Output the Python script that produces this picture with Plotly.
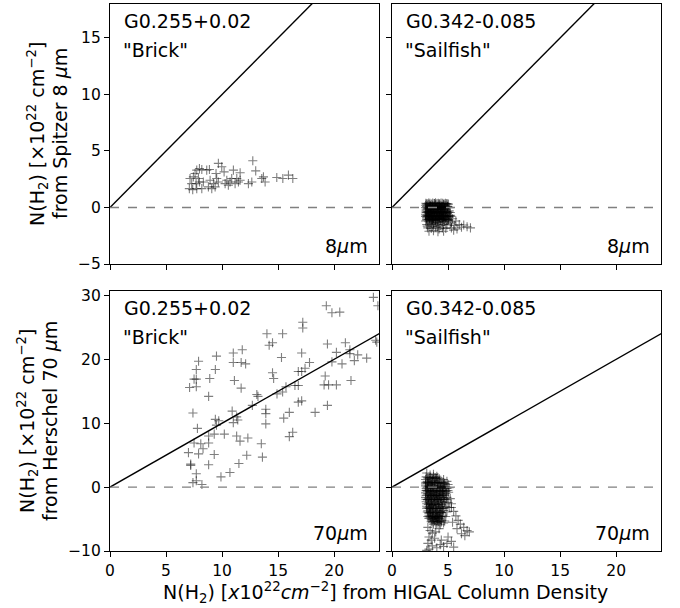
import plotly.graph_objects as go

# ---------------- data ----------------
# G0.255+0.02 "Brick", Spitzer 8 um vs HIGAL
brick8_x = [7.14, 7.29, 7.08, 7.38, 7.74, 7.59, 7.74, 7.98, 8.19, 8.63, 8.87, 7.44, 7.89, 8.33, 8.19,
            8.78, 9.08, 9.38, 8.93, 9.52, 9.67, 9.46, 9.67, 9.97, 10.18, 10.42, 10.71, 10.56, 10.86,
            11.01, 11.31, 11.16, 11.61, 11.61, 12.35, 12.65, 12.74, 13.0, 13.54, 13.84, 13.69, 14.88,
            15.42, 15.92, 16.31, 9.23, 10.27, 11.46, 7.98, 7.68]
brick8_y = [2.56, 2.11, 1.67, 1.58, 1.67, 3.01, 3.30, 3.45, 3.36, 3.30, 3.36, 2.71, 2.56, 2.26, 1.67,
            1.82, 1.67, 1.82, 2.41, 2.56, 2.26, 3.01, 3.90, 3.60, 3.15, 2.41, 2.26, 1.96, 2.56,
            3.30, 2.56, 2.11, 3.07, 2.41, 2.11, 2.26, 4.13, 3.24, 2.56, 2.26, 2.71, 2.65,
            2.56, 2.86, 2.56, 2.11, 2.11, 2.26, 2.26, 2.11]

# G0.342-0.085 "Sailfish", Spitzer 8 um vs HIGAL (outer points)
sail8_x_outer = [3.1, 3.4, 3.8, 4.2, 4.6, 4.9,
           3.0, 3.3, 3.6, 3.9, 4.3, 4.7, 5.0,
           3.05, 3.25, 3.5, 3.8, 4.1, 4.4, 4.8, 5.1,
           3.0, 3.2, 3.45, 3.7, 4.0, 4.3, 4.6, 4.95, 5.2,
           3.1, 3.35, 3.6, 3.9, 4.2, 4.5, 4.8, 5.1, 5.4,
           3.0, 3.3, 3.55, 3.85, 4.1, 4.4, 4.7, 5.0, 5.3, 5.7,
           3.1, 3.4, 3.7, 4.0, 4.3, 4.6, 4.9, 5.2, 5.6, 6.0, 6.4,
           3.2, 3.5, 3.9, 4.2, 4.5, 4.8, 5.3, 5.8, 6.2, 6.7, 7.0,
           3.3, 3.7, 4.1, 4.6, 5.5,
           3.2, 3.5, 3.3, 3.6, 3.4, 3.9, 4.4, 4.0, 4.5, 3.75, 4.25, 4.65, 3.15, 3.6, 4.1,
           3.0, 3.15, 3.3, 3.45, 3.6, 3.75, 3.9, 4.05, 4.2, 4.35, 4.5, 4.65, 4.8, 4.95,
           3.05, 3.2, 3.35, 3.5, 3.65, 3.8, 3.95, 4.1, 4.25, 4.4, 4.55, 4.7, 4.85,
           3.1, 3.25, 3.4, 3.55, 3.7, 3.85, 4.0, 4.15, 4.3, 4.45, 4.6,
           3.0, 3.2, 3.4, 3.6, 3.8, 4.0, 4.2, 4.4, 4.6, 4.8, 5.0,
           3.1, 3.3, 3.5, 3.7, 3.9, 4.1, 4.3, 4.5]
sail8_y_outer = [0.3, 0.2, 0.35, 0.3, 0.25, 0.3,
           0.0, -0.05, 0.05, -0.1, 0.0, -0.05, 0.05,
           -0.3, -0.35, -0.25, -0.3, -0.4, -0.3, -0.35, -0.3,
           -0.6, -0.65, -0.55, -0.6, -0.7, -0.6, -0.65, -0.55, -0.7,
           -0.9, -0.95, -0.85, -0.9, -1.0, -0.9, -0.95, -0.85, -1.0,
           -1.2, -1.25, -1.15, -1.2, -1.3, -1.2, -1.25, -1.15, -1.3, -1.2,
           -1.5, -1.55, -1.45, -1.5, -1.6, -1.5, -1.55, -1.45, -1.6, -1.5, -1.55,
           -1.8, -1.85, -1.75, -1.9, -1.8, -1.85, -1.8, -1.9, -1.75, -1.7, -1.8,
           -2.1, -2.05, -2.15, -2.1, -2.0,
           -0.1, -0.45, -0.75, -1.05, 0.1, 0.15, 0.1, -0.2, -0.5, -1.35, -0.85, -1.05, -1.65, -1.65, -1.7,
           0.2, 0.15, 0.25, 0.1, 0.2, 0.15, 0.25, 0.1, 0.2, 0.15, 0.1, 0.2, 0.15, 0.1,
           -0.15, -0.2, -0.1, -0.2, -0.15, -0.2, -0.1, -0.15, -0.2, -0.15, -0.2, -0.1, -0.2,
           -0.45, -0.5, -0.4, -0.5, -0.45, -0.5, -0.4, -0.5, -0.45, -0.4, -0.5,
           -0.8, -0.75, -0.85, -0.8, -0.75, -0.8, -0.85, -0.75, -0.8, -0.85, -0.8,
           -1.1, -1.05, -1.1, -1.0, -1.1, -1.05, -1.1, -1.0]
# Sailfish 8 um: dense core
sail8_x_core = [3.02, 3.14, 3.27, 3.38, 3.51, 3.63, 3.76, 3.88, 4.01, 4.13, 4.26, 4.38, 4.52, 4.64, 4.77, 4.9, 5.03,
                3.08, 3.2, 3.33, 3.45, 3.58, 3.7, 3.83, 3.95, 4.08, 4.2, 4.33, 4.45, 4.58, 4.7, 4.83, 4.96, 5.1,
                3.03, 3.16, 3.29, 3.41, 3.54, 3.66, 3.79, 3.92, 4.04, 4.17, 4.29, 4.42, 4.55, 4.67, 4.8, 4.93, 5.06, 5.2,
                3.05, 3.18, 3.31, 3.44, 3.56, 3.69, 3.81, 3.94, 4.07, 4.19, 4.32, 4.45, 4.57, 4.7, 4.84, 4.98, 5.12, 5.26,
                3.1, 3.23, 3.36, 3.49, 3.62, 3.74, 3.87, 4.0, 4.12, 4.25, 4.38, 4.51, 4.63, 4.76, 4.9, 5.05]
sail8_y_core = [0.38, 0.33, 0.4, 0.36, 0.31, 0.39, 0.35, 0.42, 0.34, 0.37, 0.32, 0.4, 0.36, 0.33, 0.38, 0.35, 0.3,
                0.08, -0.02, 0.05, 0.1, -0.06, 0.03, 0.07, -0.04, 0.02, 0.09, -0.03, 0.04, 0.06, -0.05, 0.01, 0.07, -0.02,
                -0.42, -0.38, -0.47, -0.4, -0.36, -0.45, -0.41, -0.48, -0.37, -0.44, -0.4, -0.46, -0.39, -0.43, -0.47, -0.38, -0.42, -0.45,
                -0.72, -0.78, -0.7, -0.76, -0.8, -0.73, -0.77, -0.71, -0.79, -0.74, -0.7, -0.78, -0.75, -0.72, -0.8, -0.76, -0.73, -0.79,
                -1.02, -1.08, -1.0, -1.06, -1.1, -1.03, -1.07, -1.01, -1.09, -1.04, -1.0, -1.08, -1.05, -1.02, -1.1, -1.06]

# G0.255+0.02 "Brick", Herschel 70 um vs HIGAL
brick70_x = [23.5, 23.9, 19.3, 19.8, 20.5, 17.2, 17.2, 14.0, 15.4, 14.2, 14.5, 19.4, 21.0, 21.4, 23.7,
             23.8, 20.2, 21.4, 22.1, 22.9, 21.8, 19.8, 20.7, 17.1, 15.3, 17.8, 17.4, 17.1, 16.8, 14.5,
             14.6, 19.2, 19.1, 19.5, 20.2, 21.5, 16.5, 16.8, 15.7, 15.4, 14.9, 13.1, 13.2, 12.7, 13.9,
             13.9, 17.1, 16.8, 18.3, 19.4, 16.0, 15.5, 13.9, 16.3, 16.0, 7.9, 7.7, 7.7, 9.5, 9.4,
             11.0, 11.8, 11.0, 11.7, 12.1, 8.9, 7.5, 7.1, 7.7, 11.1, 11.7, 8.8, 7.4, 10.9, 11.3,
             9.4, 9.7, 9.5, 11.0, 11.4, 7.8, 10.2, 8.8, 9.3, 11.3, 12.3, 11.6, 13.5, 7.5, 8.1,
             8.3, 8.8, 7.0, 7.9, 9.3, 12.2, 13.6, 7.2, 7.2, 8.8, 11.5, 7.7, 9.9, 10.7, 7.4,
             7.7, 8.2]
brick70_y = [29.7, 28.4, 28.4, 27.3, 27.4, 25.8, 24.9, 24.0, 24.0, 22.2, 22.6, 22.4, 22.6, 21.5, 23.0,
             22.7, 21.1, 20.9, 20.7, 20.2, 19.8, 19.6, 19.3, 21.0, 20.3, 19.5, 18.6, 18.1, 18.1, 17.9,
             17.0, 17.4, 16.0, 16.0, 16.0, 16.7, 15.9, 15.9, 15.7, 14.9, 14.6, 14.5, 14.2, 12.8, 12.2,
             11.5, 13.5, 13.3, 11.7, 12.8, 11.7, 10.8, 9.9, 8.6, 7.9, 19.7, 18.4, 16.9, 20.5, 18.4,
             21.0, 21.5, 19.5, 19.5, 19.3, 17.0, 16.9, 15.6, 15.7, 16.7, 15.5, 14.2, 11.6, 11.9, 11.0,
             10.6, 10.4, 9.7, 10.1, 10.5, 9.2, 8.3, 8.0, 8.3, 8.0, 7.7, 7.2, 6.8, 6.9, 6.8,
             6.0, 6.9, 5.4, 5.2, 5.1, 5.0, 4.7, 3.6, 3.4, 3.5, 3.7, 2.1, 1.6, 2.3, 0.7,
             1.0, 0.4]

# G0.342-0.085 "Sailfish", Herschel 70 um vs HIGAL (outer points)
sail70_x_outer = [3.1, 3.4, 3.7, 4.0,
            3.0, 3.3, 3.6, 3.9, 4.2, 4.6, 4.9,
            3.0, 3.2, 3.5, 3.8, 4.1, 4.4, 4.7, 5.0,
            3.05, 3.25, 3.5, 3.75, 4.0, 4.3, 4.6, 4.9, 5.1,
            3.0, 3.2, 3.45, 3.7, 3.95, 4.2, 4.5, 4.8, 5.05,
            3.0, 3.25, 3.5, 3.75, 4.0, 4.3, 4.6, 4.9, 5.2,
            3.05, 3.3, 3.55, 3.8, 4.1, 4.4, 4.7, 5.0, 5.3,
            3.1, 3.35, 3.6, 3.9, 4.2, 4.5, 4.8, 5.1,
            3.2, 3.45, 3.7, 4.0, 4.3, 4.6, 4.9,
            3.3, 3.6, 3.9, 4.2, 4.5, 4.8,
            3.5, 3.8, 4.1, 4.4, 4.7,
            3.7, 4.0, 4.3, 4.6,
            3.1, 3.3, 3.4, 3.6, 3.2, 3.5, 3.9, 4.1, 3.15, 3.4, 4.4, 4.2, 3.6, 4.5, 3.3, 4.0,
            5.3, 5.5, 5.7, 5.9, 6.1, 6.4, 6.7, 6.2, 5.8, 5.4, 6.9, 6.5,
            3.2, 3.4, 3.6, 3.3, 3.5, 3.8, 3.2, 3.6, 3.3, 4.0, 4.3, 4.6, 4.9, 5.3, 5.0, 4.4,
            3.9, 4.2, 5.5, 3.1,
            3.0, 3.15, 3.3, 3.45, 3.6, 3.75, 3.9, 4.05, 4.2, 4.35, 4.5, 4.65, 4.8,
            3.05, 3.2, 3.35, 3.5, 3.65, 3.8, 3.95, 4.1, 4.25, 4.4, 4.55, 4.7,
            3.1, 3.25, 3.4, 3.55, 3.7, 3.85, 4.0, 4.15, 4.3, 4.45,
            3.15, 3.3, 3.45, 3.6, 3.75, 3.9, 4.05, 4.2, 4.35,
            3.3, 3.45, 3.6, 3.75, 3.9, 4.05, 4.2]
sail70_y_outer = [2.2, 1.9, 2.0, 1.7,
            1.2, 1.3, 1.1, 1.4, 1.0, 1.2, 0.9,
            0.5, 0.6, 0.4, 0.5, 0.6, 0.3, 0.5, 0.4,
            -0.2, -0.3, -0.1, -0.2, -0.3, -0.15, -0.25, -0.2, -0.1,
            -0.9, -1.0, -0.8, -0.9, -1.0, -0.85, -0.95, -1.0, -0.8,
            -1.6, -1.7, -1.5, -1.6, -1.7, -1.55, -1.65, -1.6, -1.8,
            -2.3, -2.4, -2.2, -2.3, -2.4, -2.25, -2.35, -2.4, -2.6,
            -3.0, -3.1, -2.9, -3.0, -3.1, -2.95, -3.05, -3.2,
            -3.7, -3.8, -3.6, -3.7, -3.8, -3.65, -3.9,
            -4.4, -4.5, -4.3, -4.5, -4.4, -4.6,
            -5.1, -5.2, -5.0, -5.2, -5.3,
            -5.8, -5.7, -5.9, -5.6,
            -0.5, 0.1, -1.3, -0.6, -2.0, -2.7, -1.3, -2.0, 0.9, -3.4, -4.0, -1.3, 0.8, -0.6, -4.0, -4.8,
            -3.2, -3.8, -4.5, -5.2, -5.8, -6.3, -6.8, -7.3, -6.5, -5.5, -7.0, -7.6,
            -6.3, -6.8, -7.2, -7.8, -8.3, -8.0, -8.8, -9.2, -9.7, -9.5, -9.0, -9.3, -8.8, -8.5, -7.8, -8.3,
            -7.0, -6.5, -9.4, -9.9,
            0.2, 0.0, 0.3, -0.1, 0.1, 0.2, -0.1, 0.0, 0.2, -0.1, 0.1, 0.0, 0.1,
            -1.3, -1.2, -1.4, -1.3, -1.2, -1.4, -1.3, -1.2, -1.4, -1.3, -1.2, -1.3,
            -2.6, -2.7, -2.6, -2.8, -2.7, -2.6, -2.8, -2.7, -2.6, -2.7,
            -3.9, -4.1, -4.0, -3.9, -4.1, -4.0, -3.9, -4.1, -4.0,
            -4.9, -4.8, -5.0, -4.9, -4.8, -5.0, -4.9]
# Sailfish 70 um: dense core
sail70_x_core = [3.05, 3.18, 3.31, 3.44, 3.57, 3.7, 3.83, 3.96, 4.09, 4.22,
                 3.02, 3.15, 3.28, 3.41, 3.54, 3.67, 3.8, 3.93, 4.06, 4.19, 4.32, 4.45, 4.58, 4.71,
                 3.04, 3.17, 3.3, 3.43, 3.56, 3.69, 3.82, 3.95, 4.08, 4.21, 4.34, 4.47, 4.6, 4.73, 4.86, 4.99,
                 3.03, 3.16, 3.29, 3.42, 3.55, 3.68, 3.81, 3.94, 4.07, 4.2, 4.33, 4.46, 4.59, 4.72, 4.85,
                 3.08, 3.21, 3.34, 3.47, 3.6, 3.73, 3.86, 3.99, 4.12, 4.25, 4.38, 4.51, 4.64,
                 3.2, 3.33, 3.46, 3.59, 3.72, 3.85, 3.98, 4.11, 4.24, 4.37, 4.5,
                 3.5, 3.63, 3.76, 3.89, 4.02, 4.15, 4.28, 4.41]
sail70_y_core = [1.6, 1.45, 1.55, 1.5, 1.4, 1.62, 1.48, 1.35, 1.5, 1.3,
                 0.75, 0.68, 0.72, 0.65, 0.8, 0.7, 0.66, 0.74, 0.69, 0.78, 0.64, 0.71, 0.67, 0.62,
                 -0.55, -0.62, -0.58, -0.65, -0.6, -0.52, -0.63, -0.57, -0.61, -0.54, -0.66, -0.59, -0.56, -0.64, -0.6, -0.53,
                 -1.9, -1.95, -1.85, -2.0, -1.92, -1.88, -1.97, -1.86, -1.93, -1.99, -1.87, -1.94, -1.9, -1.96, -1.89,
                 -3.3, -3.25, -3.35, -3.28, -3.32, -3.38, -3.26, -3.31, -3.36, -3.29, -3.34, -3.27, -3.33,
                 -4.6, -4.65, -4.55, -4.62, -4.68, -4.58, -4.63, -4.57, -4.66, -4.6, -4.64,
                 -5.4, -5.45, -5.35, -5.5, -5.42, -5.38, -5.47, -5.44]

ONE_TO_ONE = [0, 40]          # y = x reference line
X_RANGE = [0, 24]
Y_RANGE_TOP = [-5, 18]
Y_RANGE_BOT = [-10, 30.7]
X_TICKS = [0, 5, 10, 15, 20]
Y_TICKS_TOP = [-5, 0, 5, 10, 15]
Y_TICKS_BOT = [-10, 0, 10, 20, 30]

panels = [
    dict(x=brick8_x, y=brick8_y, name="G0.255+0.02", alias='"Brick"', band="8"),
    dict(x=sail8_x_outer + sail8_x_core, y=sail8_y_outer + sail8_y_core,
         name="G0.342-0.085", alias='"Sailfish"', band="8"),
    dict(x=brick70_x, y=brick70_y, name="G0.255+0.02", alias='"Brick"', band="70"),
    dict(x=sail70_x_outer + sail70_x_core, y=sail70_y_outer + sail70_y_core,
         name="G0.342-0.085", alias='"Sailfish"', band="70"),
]

# ---------------- layout helpers ----------------
W, H = 680, 608
FONT = "DejaVu Sans"
def fx(p):
    return p / W
def fy(p):
    return 1 - p / H

COLS = [(110, 379), (392, 661)]
ROWS = [(4, 264), (291, 551)]

fig = go.Figure()
annotations = []
shapes = []

for i, pnl in enumerate(panels):
    r, c = divmod(i, 2)
    ax = "" if i == 0 else str(i + 1)
    xa, ya = "x" + ax, "y" + ax
    fig.add_trace(go.Scatter(
        x=ONE_TO_ONE, y=ONE_TO_ONE, mode="lines",
        line=dict(color="black", width=1.4), xaxis=xa, yaxis=ya,
        showlegend=False, hoverinfo="skip"))
    fig.add_trace(go.Scatter(
        x=pnl["x"], y=pnl["y"], mode="markers",
        marker=dict(symbol="cross-thin", size=6.5,
                    line=dict(color="rgba(0,0,0,0.5)", width=1.1)),
        xaxis=xa, yaxis=ya, showlegend=False))
    shapes.append(dict(type="line", xref=xa + " domain", yref=ya,
                       x0=0, x1=1, y0=0, y1=0,
                       line=dict(color="rgb(128,128,128)", width=1.3, dash="dash")))

    x0, x1 = COLS[c]
    y0, y1 = ROWS[r]
    xaxis_cfg = dict(domain=[fx(x0), fx(x1)], range=X_RANGE, tickvals=X_TICKS,
                     showticklabels=(r == 1), anchor=ya,
                     showline=True, mirror=True, linecolor="black", linewidth=1.1,
                     ticks="outside", ticklen=5, tickwidth=1.1, tickcolor="black",
                     showgrid=False, zeroline=False,
                     tickfont=dict(family=FONT, size=15.5, color="black"),
                     automargin=False)
    yaxis_cfg = dict(domain=[fy(y1), fy(y0)],
                     range=Y_RANGE_TOP if r == 0 else Y_RANGE_BOT,
                     tickvals=Y_TICKS_TOP if r == 0 else Y_TICKS_BOT,
                     showticklabels=(c == 0), anchor=xa,
                     showline=True, mirror=True, linecolor="black", linewidth=1.1,
                     ticks="outside", ticklen=5, tickwidth=1.1, tickcolor="black",
                     showgrid=False, zeroline=False,
                     tickfont=dict(family=FONT, size=15.5, color="black"),
                     automargin=False)
    fig.layout["xaxis" + ax] = xaxis_cfg
    fig.layout["yaxis" + ax] = yaxis_cfg

    # panel texts
    annotations.append(dict(text=pnl["name"], x=fx(x0 + 12), y=fy(y0 + 17),
                            xref="paper", yref="paper", xanchor="left", yanchor="middle",
                            showarrow=False, font=dict(family=FONT, size=19, color="black")))
    annotations.append(dict(text=pnl["alias"], x=fx(x0 + 11), y=fy(y0 + 46),
                            xref="paper", yref="paper", xanchor="left", yanchor="middle",
                            showarrow=False, font=dict(family=FONT, size=19, color="black")))
    annotations.append(dict(text=pnl["band"] + "<i>μ</i>m", x=fx(x1 - 9), y=fy(y1 - 18),
                            xref="paper", yref="paper", xanchor="right", yanchor="middle",
                            showarrow=False, font=dict(family=FONT, size=19, color="black")))

# axis titles
annotations += [
    dict(text="N(H<sub>2</sub>) [<i>x</i>10<sup>22</sup><i>cm</i><sup>−2</sup>] from HIGAL Column Density",
         x=fx(385), y=fy(592), xref="paper", yref="paper", xanchor="center", yanchor="middle",
         showarrow=False, font=dict(family=FONT, size=19, color="black")),
    dict(text="N(H<sub>2</sub>) [×10<sup>22</sup> cm<sup>−2</sup>]", textangle=-90,
         x=fx(37), y=fy(134), xref="paper", yref="paper", xanchor="center", yanchor="middle",
         showarrow=False, font=dict(family=FONT, size=19, color="black")),
    dict(text="from Spitzer 8 <i>μ</i>m", textangle=-90,
         x=fx(60), y=fy(134), xref="paper", yref="paper", xanchor="center", yanchor="middle",
         showarrow=False, font=dict(family=FONT, size=19, color="black")),
    dict(text="N(H<sub>2</sub>) [×10<sup>22</sup> cm<sup>−2</sup>]", textangle=-90,
         x=fx(27), y=fy(421), xref="paper", yref="paper", xanchor="center", yanchor="middle",
         showarrow=False, font=dict(family=FONT, size=19, color="black")),
    dict(text="from Herschel 70 <i>μ</i>m", textangle=-90,
         x=fx(50), y=fy(421), xref="paper", yref="paper", xanchor="center", yanchor="middle",
         showarrow=False, font=dict(family=FONT, size=19, color="black")),
]

fig.update_layout(width=W, height=H, margin=dict(l=0, r=0, t=0, b=0),
                  plot_bgcolor="white", paper_bgcolor="white",
                  annotations=annotations, shapes=shapes, showlegend=False,
                  font=dict(family=FONT, color="black"))

fig.write_html("out.html", config={"displayModeBar": False},
               post_script="document.body.style.margin='0';document.body.style.padding='0';")
